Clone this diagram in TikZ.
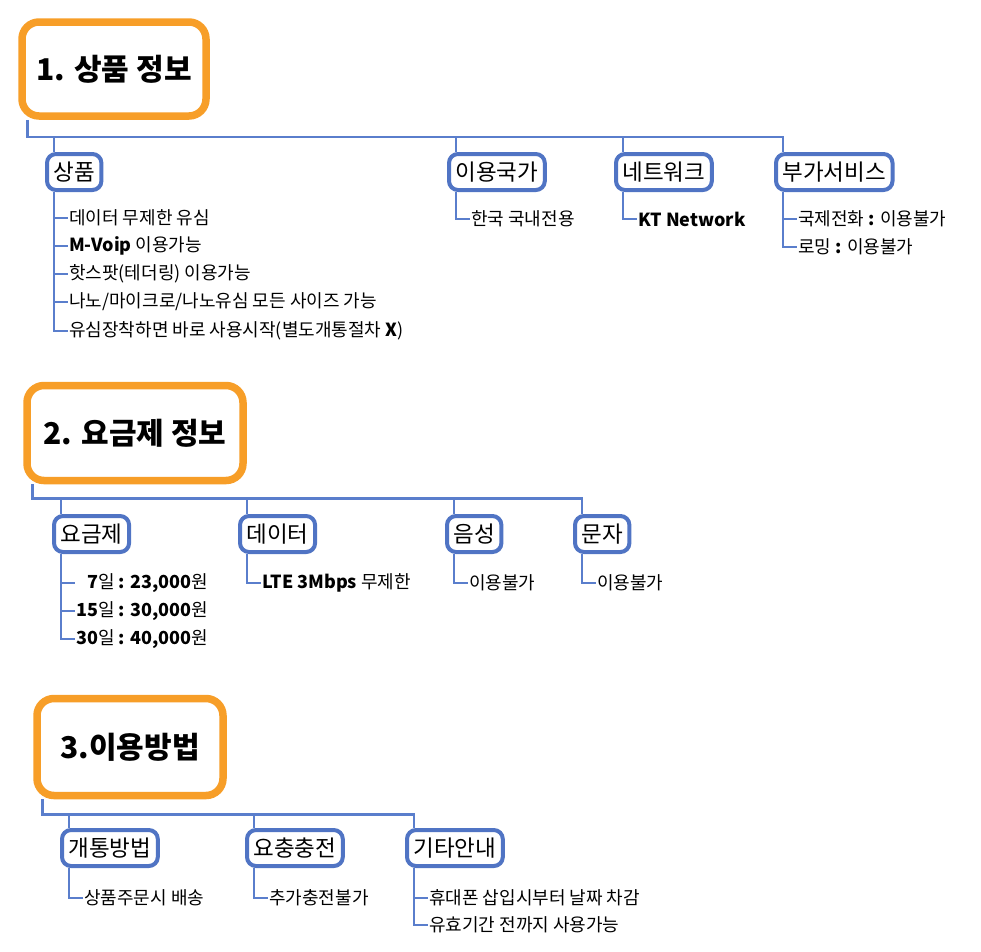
\documentclass[tikz,border=0pt]{standalone}
\usepackage{fontspec}
\setmainfont{Noto Sans CJK KR}
\usetikzlibrary{shadows,backgrounds}

\definecolor{mapOrange}{RGB}{247,158,40}
\definecolor{mapBlue}{RGB}{80,116,196}
\definecolor{mapLine}{RGB}{90,126,204}

\tikzset{
  headbox/.style={draw=mapOrange,line width=7.5pt,rounded corners=17pt,fill=white,inner sep=0pt,
    font=\fontsize{30}{36}\selectfont\bfseries,
    drop shadow={opacity=0.25,shadow xshift=2pt,shadow yshift=-2pt}},
  topicbox/.style={draw=mapBlue,line width=4pt,rounded corners=9pt,fill=white,anchor=west,
    inner xsep=6.5pt,inner ysep=0pt,minimum height=36pt,font=\fontsize{22.5}{26}\selectfont,
    drop shadow={opacity=0.2,shadow xshift=1.5pt,shadow yshift=-1.5pt}},
  leaf/.style={anchor=west,inner sep=1pt,font=\fontsize{18}{21}\selectfont},
  bus/.style={mapLine,line width=2.5pt},
  twig/.style={mapLine,line width=1.2pt}
}

\begin{document}
\begin{tikzpicture}[x=1pt,y=-1pt]
\useasboundingbox (0,0) rectangle (981,951);

% 1. 상품 정보
\node[headbox,minimum width=184pt,minimum height=94pt] (t1) at (114,69) {1. 상품 정보};
\node[topicbox] (c11) at (45,172) {상품};
\node[topicbox] (c12) at (447,172) {이용국가};
\node[topicbox] (c13) at (614,172) {네트워크};
\node[topicbox] (c14) at (774,172) {부가서비스};
\node[leaf] (i111) at (68,218) {데이터 무제한 유심};
\node[leaf] (i112) at (68,246) {\textbf{M-Voip} 이용가능};
\node[leaf] (i113) at (68,274) {핫스팟(테더링) 이용가능};
\node[leaf] (i114) at (68,302) {나노/마이크로/나노유심 모든 사이즈 가능};
\node[leaf] (i115) at (68,331) {유심장착하면 바로 사용시작(별도개통절차 \textbf{X})};
\node[leaf] (i121) at (470,219) {한국 국내전용};
\node[leaf] (i131) at (637,219) {\textbf{KT Network}};
\node[leaf] (i141) at (797,219) {국제전화 \textbf{:} 이용불가};
\node[leaf] (i142) at (797,247) {로밍 \textbf{:} 이용불가};

% 2. 요금제 정보
\node[headbox,minimum width=216pt,minimum height=95pt] (t2) at (135,433) {2. 요금제 정보};
\node[topicbox] (c21) at (52,534) {요금제};
\node[topicbox] (c22) at (238,534) {데이터};
\node[topicbox] (c23) at (445,534) {음성};
\node[topicbox] (c24) at (573,534) {문자};
\node[leaf] (i211) at (75,583) {\textbf{\phantom{1}7}일 \textbf{: 23,000}원};
\node[leaf] (i212) at (75,611) {\textbf{15}일 \textbf{: 30,000}원};
\node[leaf] (i213) at (75,639) {\textbf{30}일 \textbf{: 40,000}원};
\node[leaf] (i221) at (261,583) {\textbf{LTE 3Mbps} 무제한};
\node[leaf] (i231) at (468,583) {이용불가};
\node[leaf] (i241) at (596,583) {이용불가};

% 3.이용방법
\node[headbox,minimum width=186pt,minimum height=97pt] (t3) at (130,747) {3.이용방법};
\node[topicbox] (c31) at (60,848) {개통방법};
\node[topicbox] (c32) at (245,848) {요충충전};
\node[topicbox] (c33) at (405,848) {기타안내};
\node[leaf] (i311) at (83,898) {상품주문시 배송};
\node[leaf] (i321) at (268,898) {추가충전불가};
\node[leaf] (i331) at (428,898) {휴대폰 삽입시부터 날짜 차감};
\node[leaf] (i332) at (428,925) {유효기간 전까지 사용가능};

\begin{scope}[on background layer]
\coordinate (b1) at ([shift={(9pt,-17pt)}]t1.south west);
\coordinate (b2) at ([shift={(9pt,-14pt)}]t2.south west);
\coordinate (b3) at ([shift={(9pt,-15pt)}]t3.south west);
\foreach \c in {c11,c12,c13,c14,c21,c22,c23,c24,c31,c32,c33}
  \coordinate (d\c) at ([xshift=9pt]\c.north west);

\draw[bus] (t1.south west -| b1) -- (b1) -| (dc14);
\draw[bus] (t2.south west -| b2) -- (b2) -| (dc24);
\draw[bus] (t3.south west -| b3) -- (b3) -| (dc33);
\foreach \c in {c11,c12,c13} \draw[bus] (d\c) -- (d\c |- b1);
\foreach \c in {c21,c22,c23} \draw[bus] (d\c) -- (d\c |- b2);
\foreach \c in {c31,c32} \draw[bus] (d\c) -- (d\c |- b3);

\foreach \i in {1,...,5} \draw[twig] (c11.south west -| dc11) |- (i11\i.west);
\draw[twig] (c12.south west -| dc12) |- (i121.west);
\draw[twig] (c13.south west -| dc13) |- (i131.west);
\foreach \i in {1,2} \draw[twig] (c14.south west -| dc14) |- (i14\i.west);
\foreach \i in {1,2,3} \draw[twig] (c21.south west -| dc21) |- (i21\i.west);
\draw[twig] (c22.south west -| dc22) |- (i221.west);
\draw[twig] (c23.south west -| dc23) |- (i231.west);
\draw[twig] (c24.south west -| dc24) |- (i241.west);
\draw[twig] (c31.south west -| dc31) |- (i311.west);
\draw[twig] (c32.south west -| dc32) |- (i321.west);
\foreach \i in {1,2} \draw[twig] (c33.south west -| dc33) |- (i33\i.west);
\end{scope}
\end{tikzpicture}
\end{document}
